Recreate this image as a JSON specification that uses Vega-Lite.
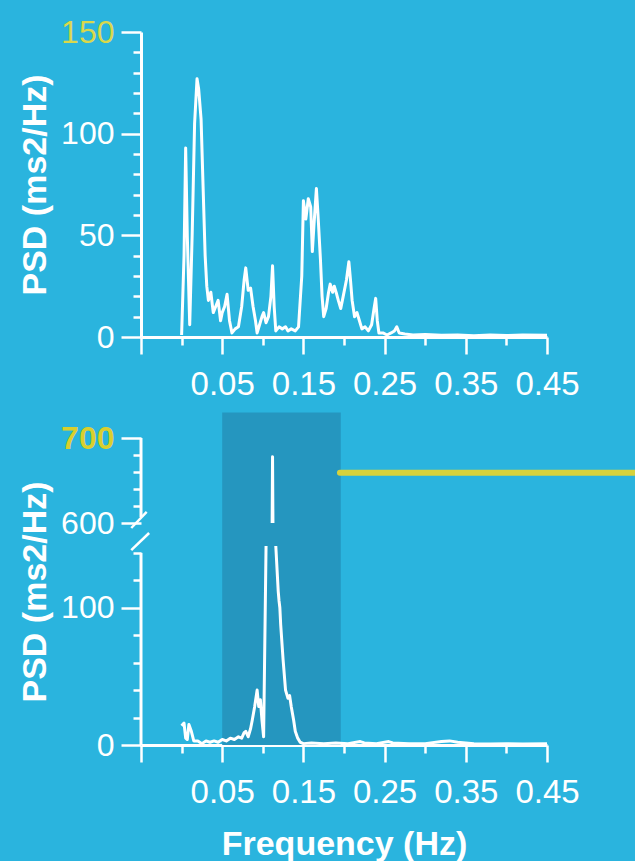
{
  "$schema": "https://vega.github.io/schema/vega-lite/v6.json",
  "background": "#2ab4de",
  "padding": {"left": 18, "top": 16, "right": 0, "bottom": 0},
  "spacing": 11,
  "config": {
    "view": {"stroke": null},
    "font": "Liberation Sans",
    "axis": {
      "grid": false,
      "domainColor": "white",
      "domainWidth": 3,
      "tickColor": "white",
      "tickWidth": 2.5,
      "labelColor": "white",
      "labelFont": "Liberation Sans",
      "labelFontSize": 32,
      "labelOverlap": false,
      "labelFlush": false,
      "labelBound": false,
      "titleColor": "white",
      "titleFont": "Liberation Sans",
      "titleFontSize": 34,
      "titleFontWeight": "bold"
    }
  },
  "datasets": {
    "rest": [
      {"f": 0.000, "psd": 1}, {"f": 0.003, "psd": 40}, {"f": 0.005, "psd": 93}, {"f": 0.007, "psd": 50},
      {"f": 0.010, "psd": 6}, {"f": 0.013, "psd": 50}, {"f": 0.016, "psd": 105}, {"f": 0.019, "psd": 127},
      {"f": 0.021, "psd": 122}, {"f": 0.024, "psd": 107}, {"f": 0.026, "psd": 80}, {"f": 0.029, "psd": 40},
      {"f": 0.031, "psd": 25}, {"f": 0.033, "psd": 18}, {"f": 0.036, "psd": 22}, {"f": 0.039, "psd": 12},
      {"f": 0.042, "psd": 15}, {"f": 0.045, "psd": 18}, {"f": 0.048, "psd": 8}, {"f": 0.050, "psd": 12},
      {"f": 0.053, "psd": 15}, {"f": 0.056, "psd": 21}, {"f": 0.059, "psd": 8}, {"f": 0.062, "psd": 2},
      {"f": 0.066, "psd": 4}, {"f": 0.070, "psd": 5}, {"f": 0.074, "psd": 15}, {"f": 0.077, "psd": 28},
      {"f": 0.079, "psd": 34}, {"f": 0.082, "psd": 23}, {"f": 0.085, "psd": 24}, {"f": 0.088, "psd": 15},
      {"f": 0.091, "psd": 8}, {"f": 0.093, "psd": 2}, {"f": 0.096, "psd": 6}, {"f": 0.099, "psd": 10},
      {"f": 0.101, "psd": 12}, {"f": 0.104, "psd": 7}, {"f": 0.107, "psd": 10}, {"f": 0.110, "psd": 20},
      {"f": 0.112, "psd": 35}, {"f": 0.114, "psd": 15}, {"f": 0.116, "psd": 3}, {"f": 0.120, "psd": 5},
      {"f": 0.124, "psd": 4}, {"f": 0.128, "psd": 5}, {"f": 0.131, "psd": 3}, {"f": 0.135, "psd": 4},
      {"f": 0.140, "psd": 3}, {"f": 0.144, "psd": 5}, {"f": 0.148, "psd": 30}, {"f": 0.150, "psd": 67},
      {"f": 0.153, "psd": 58}, {"f": 0.156, "psd": 68}, {"f": 0.159, "psd": 64}, {"f": 0.161, "psd": 42},
      {"f": 0.163, "psd": 55}, {"f": 0.166, "psd": 73}, {"f": 0.168, "psd": 60}, {"f": 0.171, "psd": 38},
      {"f": 0.173, "psd": 20}, {"f": 0.175, "psd": 10}, {"f": 0.178, "psd": 14}, {"f": 0.181, "psd": 22},
      {"f": 0.183, "psd": 26}, {"f": 0.186, "psd": 22}, {"f": 0.188, "psd": 25}, {"f": 0.191, "psd": 21},
      {"f": 0.193, "psd": 18}, {"f": 0.196, "psd": 14}, {"f": 0.199, "psd": 20}, {"f": 0.203, "psd": 28},
      {"f": 0.206, "psd": 37}, {"f": 0.208, "psd": 28}, {"f": 0.210, "psd": 18}, {"f": 0.213, "psd": 10},
      {"f": 0.216, "psd": 12}, {"f": 0.219, "psd": 8}, {"f": 0.222, "psd": 4}, {"f": 0.226, "psd": 5},
      {"f": 0.230, "psd": 3}, {"f": 0.234, "psd": 6}, {"f": 0.237, "psd": 14}, {"f": 0.239, "psd": 19},
      {"f": 0.241, "psd": 8}, {"f": 0.243, "psd": 2}, {"f": 0.248, "psd": 2}, {"f": 0.253, "psd": 1},
      {"f": 0.258, "psd": 2}, {"f": 0.262, "psd": 3}, {"f": 0.265, "psd": 5}, {"f": 0.268, "psd": 2},
      {"f": 0.275, "psd": 1.5}, {"f": 0.285, "psd": 1}, {"f": 0.300, "psd": 1.2}, {"f": 0.320, "psd": 0.8},
      {"f": 0.340, "psd": 1}, {"f": 0.360, "psd": 0.6}, {"f": 0.380, "psd": 1}, {"f": 0.400, "psd": 0.7},
      {"f": 0.420, "psd": 1}, {"f": 0.450, "psd": 0.8}
    ],
    "resonance": [
      {"f": 0.000, "psd": 14}, {"f": 0.003, "psd": 16}, {"f": 0.005, "psd": 5}, {"f": 0.007, "psd": 4},
      {"f": 0.009, "psd": 15}, {"f": 0.012, "psd": 10}, {"f": 0.015, "psd": 3}, {"f": 0.020, "psd": 3},
      {"f": 0.025, "psd": 1}, {"f": 0.030, "psd": 3}, {"f": 0.035, "psd": 2}, {"f": 0.040, "psd": 3},
      {"f": 0.045, "psd": 2}, {"f": 0.050, "psd": 4}, {"f": 0.055, "psd": 3}, {"f": 0.060, "psd": 5},
      {"f": 0.065, "psd": 4}, {"f": 0.070, "psd": 6}, {"f": 0.074, "psd": 5}, {"f": 0.077, "psd": 9},
      {"f": 0.079, "psd": 10}, {"f": 0.082, "psd": 6}, {"f": 0.085, "psd": 12}, {"f": 0.087, "psd": 18},
      {"f": 0.090, "psd": 28}, {"f": 0.093, "psd": 40}, {"f": 0.095, "psd": 28}, {"f": 0.097, "psd": 33},
      {"f": 0.099, "psd": 18}, {"f": 0.101, "psd": 6}, {"f": 0.104, "psd": 145}, {"f": 0.106, "psd": null},
      {"f": 0.1115, "psd": 598}, {"f": 0.112, "psd": 678}, {"f": 0.1125, "psd": 598}, {"f": 0.114, "psd": null},
      {"f": 0.116, "psd": 145}, {"f": 0.119, "psd": 112}, {"f": 0.120, "psd": 105}, {"f": 0.121, "psd": 100},
      {"f": 0.122, "psd": 88}, {"f": 0.125, "psd": 62}, {"f": 0.128, "psd": 40}, {"f": 0.131, "psd": 34},
      {"f": 0.133, "psd": 36}, {"f": 0.135, "psd": 28}, {"f": 0.138, "psd": 18}, {"f": 0.140, "psd": 10},
      {"f": 0.143, "psd": 5}, {"f": 0.146, "psd": 2}, {"f": 0.150, "psd": 1}, {"f": 0.160, "psd": 1.5},
      {"f": 0.175, "psd": 1}, {"f": 0.190, "psd": 1.5}, {"f": 0.205, "psd": 1}, {"f": 0.220, "psd": 2.5},
      {"f": 0.225, "psd": 1.5}, {"f": 0.240, "psd": 1}, {"f": 0.255, "psd": 2.5}, {"f": 0.260, "psd": 1.5},
      {"f": 0.280, "psd": 1}, {"f": 0.300, "psd": 1}, {"f": 0.320, "psd": 2.5}, {"f": 0.330, "psd": 3},
      {"f": 0.340, "psd": 2}, {"f": 0.360, "psd": 1}, {"f": 0.380, "psd": 0.8}, {"f": 0.400, "psd": 1},
      {"f": 0.420, "psd": 0.8}, {"f": 0.450, "psd": 1}
    ],
    "band": [{"f0": 0.05, "f1": 0.196, "lo": 0, "hi": 730}],
    "axisSegments": [{"f": -0.05, "lo": 0, "hi": 140}, {"f": -0.05, "lo": 607, "hi": 700}],
    "breakMarks": [
      {"f0": -0.062, "f1": -0.043, "lo": 501, "hi": 613},
      {"f0": -0.062, "f1": -0.040, "lo": 142, "hi": 402}
    ],
    "pointer": [{"f0": 0.195, "f1": 0.56, "psd": 659}]
  },
  "vconcat": [
    {
      "width": 406,
      "height": 305,
      "data": {"name": "rest"},
      "mark": {"type": "line", "color": "white", "strokeWidth": 3, "strokeJoin": "round"},
      "encoding": {
        "x": {
          "field": "f", "type": "quantitative",
          "scale": {"domain": [-0.05, 0.45], "nice": false, "zero": false},
          "axis": {
            "title": null,
            "tickCount": 100,
            "values": [-0.05, 0, 0.05, 0.1, 0.15, 0.2, 0.25, 0.3, 0.35, 0.4, 0.45],
            "format": ".2f",
            "labelFontSize": 33,
            "labelExpr": "(round(datum.value*100) % 10 == 5) ? datum.label : ''",
            "tickSize": {"condition": {"test": "abs(round(datum.value*100)) % 10 == 5", "value": 17}, "value": 8},
            "labelPadding": 14
          }
        },
        "y": {
          "field": "psd", "type": "quantitative",
          "scale": {"domain": [0, 150], "nice": false},
          "axis": {
            "title": "PSD (ms2/Hz)",
            "titlePadding": 8,
            "tickCount": 100,
            "values": [0, 10, 20, 30, 40, 50, 60, 70, 80, 90, 100, 110, 120, 130, 140, 150],
            "labelExpr": "(datum.value % 50 == 0) ? datum.label : ''",
            "tickSize": {"condition": {"test": "datum.value % 50 == 0", "value": 20}, "value": 8},
            "labelPadding": 7,
            "labelColor": {"condition": {"test": "datum.value == 150", "value": "#d9d84c"}, "value": "white"}
          }
        }
      }
    },
    {
      "width": 406,
      "height": 307,
      "layer": [
        {
          "data": {"name": "band"},
          "mark": {"type": "rect", "color": "#2596bf", "opacity": 1},
          "encoding": {
            "x": {"field": "f0", "type": "quantitative"},
            "x2": {"field": "f1"},
            "y": {"field": "lo", "type": "quantitative"},
            "y2": {"field": "hi"}
          }
        },
        {
          "data": {"name": "pointer"},
          "mark": {"type": "rule", "color": "#d6d23c", "strokeWidth": 6, "strokeCap": "round"},
          "encoding": {
            "x": {"field": "f0", "type": "quantitative"},
            "x2": {"field": "f1"},
            "y": {"field": "psd", "type": "quantitative"}
          }
        },
        {
          "data": {"name": "axisSegments"},
          "mark": {"type": "rule", "color": "white", "strokeWidth": 3},
          "encoding": {
            "x": {"field": "f", "type": "quantitative"},
            "y": {"field": "lo", "type": "quantitative"},
            "y2": {"field": "hi"}
          }
        },
        {
          "data": {"name": "breakMarks"},
          "mark": {"type": "rule", "color": "white", "strokeWidth": 2.5},
          "encoding": {
            "x": {"field": "f0", "type": "quantitative"},
            "x2": {"field": "f1"},
            "y": {"field": "lo", "type": "quantitative"},
            "y2": {"field": "hi"}
          }
        },
        {
          "data": {"name": "resonance"},
          "mark": {"type": "line", "color": "white", "strokeWidth": 3, "strokeJoin": "round"},
          "encoding": {
            "x": {
              "field": "f", "type": "quantitative",
              "scale": {"domain": [-0.05, 0.45], "nice": false, "zero": false},
              "axis": {
                "title": "Frequency (Hz)",
                "titlePadding": 18,
                "tickCount": 100,
                "values": [-0.05, 0, 0.05, 0.1, 0.15, 0.2, 0.25, 0.3, 0.35, 0.4, 0.45],
                "format": ".2f",
                "labelFontSize": 33,
                "labelExpr": "(round(datum.value*100) % 10 == 5) ? datum.label : ''",
                "tickSize": {"condition": {"test": "abs(round(datum.value*100)) % 10 == 5", "value": 17}, "value": 8},
                "labelPadding": 14
              }
            },
            "y": {
              "field": "psd", "type": "quantitative",
              "scale": {"domain": [0, 145, 600, 700], "range": [307, 108, 85, 0], "nice": false, "zero": false},
              "axis": {
                "title": "PSD (ms2/Hz)",
                "titlePadding": 8,
                "domain": false,
                "tickCount": 100,
                "values": [0, 20, 40, 60, 80, 100, 120, 140, 600, 620, 640, 660, 680, 700],
                "labelExpr": "(datum.value % 100 == 0) ? datum.label : ''",
                "tickSize": {"condition": {"test": "datum.value % 100 == 0", "value": 20}, "value": 8},
                "labelPadding": 7,
                "labelColor": {"condition": {"test": "datum.value == 700", "value": "#d9cf2e"}, "value": "white"},
                "labelFontWeight": {"condition": {"test": "datum.value == 700", "value": "bold"}, "value": "normal"}
              }
            }
          }
        }
      ]
    }
  ]
}
